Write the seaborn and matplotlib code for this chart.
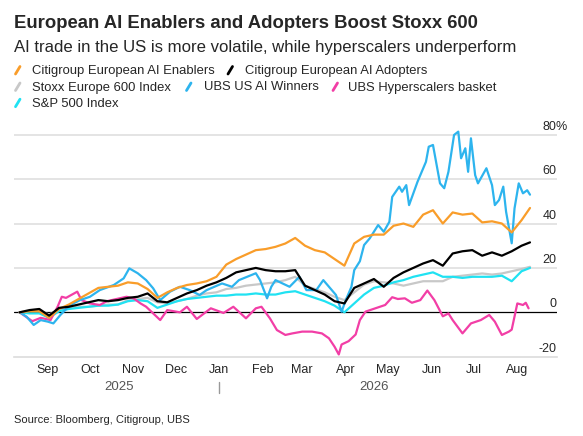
import pandas as pd
import matplotlib.pyplot as plt
import matplotlib.transforms as mtransforms
from matplotlib.lines import Line2D
import seaborn as sns

# % change since Aug 12 2025
week_dates = list(pd.date_range("2025-08-12", "2026-08-04", freq="7D")) + [pd.Timestamp("2026-08-10")]

ai_enablers = [0, 0.5, 0.5, -2.5, 1.5, 3.5, 6, 8.5, 11, 11.5, 12, 13.5, 13, 10.5, 6.5, 9,
               11, 12.3, 13, 14, 16, 21.5, 24, 26, 28, 28.5, 29.5, 31, 33.5, 30, 28, 27,
               24, 21, 31, 34, 35, 35, 39, 40, 38.5, 44, 46, 40, 45, 44, 44.5, 40.5, 41,
               40, 36, 41.5, 47]
ai_adopters = [0, 1, 1.5, -1.5, 2, 2.5, 3.5, 4.5, 5.5, 5, 5.5, 6.5, 7, 8.5, 5, 4.5,
               6.5, 8.5, 10, 12, 13.5, 15.5, 18, 19, 20, 19, 18.5, 18.5, 19, 12, 10, 8,
               5, 4, 11, 13, 15, 11.5, 15.5, 18, 20, 22, 23.5, 21, 26.5, 27.5, 28, 25.5,
               27, 25.5, 27.5, 30, 31.5]
stoxx600 = [0, 0.5, 0.5, -1, 1, 2, 2.5, 2.5, 3, 3.5, 3.5, 5.5, 6, 6.5, 4.5, 4,
            5, 6, 7.5, 8.5, 9, 10.5, 11, 12, 12.5, 13, 13.5, 14.5, 16, 12, 10.5, 9,
            7, 5.5, 9, 12.5, 14, 13.5, 13, 12, 13, 14, 14, 14, 16, 16.5, 17, 17.5,
            17, 17.5, 18.5, 19.5, 20.5]
sp500 = [0, -0.5, -0.5, -2.5, 0.5, 1.5, 2, 2.5, 3, 3, 3.5, 5, 5.5, 5, 2, 3.5,
         5, 6, 6.5, 7, 7.5, 7.5, 8, 8, 8.5, 8, 8, 9, 9.5, 8, 6.5, 5,
         3, 0, 4, 8, 11, 12, 13.5, 14.5, 16, 17, 18, 16, 16, 15.5, 16, 16,
         16, 16.5, 14, 18.5, 20]

ai_winners_dates = [
    "2025-08-12", "2025-08-17", "2025-08-22", "2025-08-27", "2025-09-01", "2025-09-05",
    "2025-09-10", "2025-09-17", "2025-09-24", "2025-10-01", "2025-10-08", "2025-10-18",
    "2025-10-25", "2025-10-29", "2025-11-04", "2025-11-10", "2025-11-15", "2025-11-20",
    "2025-11-27", "2025-12-04", "2025-12-11", "2025-12-18", "2025-12-23", "2026-01-03",
    "2026-01-10", "2026-01-15", "2026-01-27", "2026-01-30", "2026-02-04", "2026-02-07",
    "2026-02-10", "2026-02-20", "2026-02-27", "2026-03-04", "2026-03-11", "2026-03-16",
    "2026-03-25", "2026-03-29", "2026-04-01", "2026-04-05", "2026-04-07", "2026-04-11",
    "2026-04-14", "2026-04-18", "2026-04-24", "2026-04-28", "2026-05-02", "2026-05-04",
    "2026-05-09", "2026-05-11", "2026-05-14", "2026-05-16", "2026-05-22", "2026-05-28",
    "2026-05-30", "2026-06-02", "2026-06-07", "2026-06-10", "2026-06-13", "2026-06-17",
    "2026-06-20", "2026-06-22", "2026-06-25", "2026-06-27", "2026-06-29", "2026-07-02",
    "2026-07-04", "2026-07-10", "2026-07-14", "2026-07-16", "2026-07-19", "2026-07-22",
    "2026-07-24", "2026-07-28", "2026-07-30", "2026-08-02", "2026-08-05", "2026-08-08",
    "2026-08-10"]
ai_winners = [0, -2, -5.7, -3.5, -4.2, -5, -1.2, 3.3, 5.5, 7, 10, 12.3,
              15.3, 19.8, 17.6, 14.5, 10.8, 5.5, 9.3, 11.5, 10, 7.8, 10, 13,
              11.5, 14.5, 17.6, 14.5, 6.3, 11.5, 14.5, 11.5, 16, 10, 10, 14.5,
              7.8, 0.3, 5.5, 11.5, 19, 23, 30.3, 33.3, 39.3, 36.3, 40.8, 52,
              56.6, 54.3, 57.3, 48.3, 58.8, 67.8, 74.6, 75.4, 58.1, 55.9, 63.3, 79.9,
              81.4, 69.4, 73.9, 63.3, 78.4, 61.8, 58.1, 64.9, 57.3, 48.3, 50.6, 56.6,
              45.3, 31.1, 46.8, 58.1, 53.6, 55, 53]

hyperscalers_dates = [
    "2025-08-12", "2025-08-21", "2025-08-27", "2025-09-03", "2025-09-08", "2025-09-11",
    "2025-09-14", "2025-09-22", "2025-09-25", "2025-10-01", "2025-10-08", "2025-10-13",
    "2025-10-27", "2025-11-01", "2025-11-06", "2025-11-10", "2025-11-15", "2025-11-20",
    "2025-11-25", "2025-12-04", "2025-12-09", "2025-12-16", "2025-12-26", "2026-01-04",
    "2026-01-11", "2026-01-20", "2026-01-27", "2026-01-31", "2026-02-06", "2026-02-11",
    "2026-02-17", "2026-02-22", "2026-03-01", "2026-03-08", "2026-03-15", "2026-03-20",
    "2026-03-24", "2026-03-27", "2026-03-29", "2026-04-03", "2026-04-08", "2026-04-11",
    "2026-04-15", "2026-04-22", "2026-04-29", "2026-05-04", "2026-05-08", "2026-05-13",
    "2026-05-18", "2026-05-24", "2026-05-29", "2026-06-03", "2026-06-09", "2026-06-13",
    "2026-06-16", "2026-06-23", "2026-06-29", "2026-07-06", "2026-07-12", "2026-07-16",
    "2026-07-21", "2026-07-26", "2026-07-28", "2026-08-01", "2026-08-05", "2026-08-07",
    "2026-08-09"]
hyperscalers = [0, -4, -2.5, -3.5, 2.5, 7, 6.5, 9.3, 5.5, 4, 3.3, 5,
                7, 6.3, 4, 2.5, -0.5, -3.5, 1, 0, 2.5, -3, 1.8, -0.3,
                2.5, -2.7, 1.8, 2.5, -2.7, -8, -10.2, -9.5, -8.7, -8.7, -9.5, -11.7,
                -15.5, -19, -14.5, -13, -10, -3.5, 0.3, 1.8, 3.3, 6.8, 6, 6.3,
                4.3, 5.5, 9.8, 5.5, -1.8, -0.5, -3.5, -9.5, -5, -3.5, -1.2, -4.2,
                -10.2, -8.7, -7.8, 4, 3.3, 4.3, 1.8]

month_ticks = pd.date_range("2025-09-01", "2026-08-01", freq="MS")
month_labels = ["Sep", "Oct", "Nov", "Dec", "Jan", "Feb", "Mar", "Apr", "May", "Jun", "Jul", "Aug"]
y_ticks = [-20, 0, 20, 40, 60, 80]

names = ["Citigroup European AI Enablers", "Citigroup European AI Adopters",
         "Stoxx Europe 600 Index", "UBS US AI Winners", "UBS Hyperscalers basket",
         "S&P 500 Index"]
colors = {
    "Citigroup European AI Enablers": "#f99d2a",
    "Citigroup European AI Adopters": "#000000",
    "Stoxx Europe 600 Index": "#c8c8c8",
    "UBS US AI Winners": "#2db4ee",
    "UBS Hyperscalers basket": "#f23ea6",
    "S&P 500 Index": "#20e2f2",
}
draw_order = ["Stoxx Europe 600 Index", "S&P 500 Index", "UBS Hyperscalers basket",
              "UBS US AI Winners", "Citigroup European AI Enablers",
              "Citigroup European AI Adopters"]

frames = [
    pd.DataFrame({"date": week_dates, "pct": ai_enablers, "series": names[0]}),
    pd.DataFrame({"date": week_dates, "pct": ai_adopters, "series": names[1]}),
    pd.DataFrame({"date": week_dates, "pct": stoxx600, "series": names[2]}),
    pd.DataFrame({"date": pd.to_datetime(ai_winners_dates), "pct": ai_winners, "series": names[3]}),
    pd.DataFrame({"date": pd.to_datetime(hyperscalers_dates), "pct": hyperscalers, "series": names[4]}),
    pd.DataFrame({"date": week_dates, "pct": sp500, "series": names[5]}),
]
df = pd.concat(frames, ignore_index=True)

sns.set_style("white")
plt.rcParams['font.family'] = ['Liberation Sans', 'DejaVu Sans']

W, H = 583, 436
fig = plt.figure(figsize=(W / 100, H / 100), dpi=100)
ax = fig.add_axes([14 / W, 1 - 356.7 / H, (556.7 - 14) / W, (356.7 - 130.3) / H])

for v in y_ticks[2:]:
    ax.axhline(v, color="#dcdcdc", lw=1.1, zorder=0)
ax.axhline(0, color="black", lw=0.9, zorder=1)

sns.lineplot(data=df, x="date", y="pct", hue="series", hue_order=draw_order,
             palette=colors, estimator=None, linewidth=1.6, legend=False, ax=ax)

ax.set_xlim(pd.Timestamp("2025-08-08"), pd.Timestamp("2026-08-29"))
ax.set_ylim(-20, 82)
ax.set_xlabel("")
ax.set_ylabel("")
ax.set_yticks([])
ax.set_xticks(month_ticks, month_labels)
ax.tick_params(axis="x", length=3.6, width=0.8, color="#444444", labelsize=9, pad=1.5)
for side in ["top", "left", "right"]:
    ax.spines[side].set_visible(False)
ax.spines["bottom"].set_color("#dcdcdc")
ax.spines["bottom"].set_linewidth(1.2)

# y labels sit above the gridlines on the right
ytrans = mtransforms.offset_copy(ax.get_yaxis_transform(), fig=fig, x=0, y=5, units="dots")
for v in y_ticks:
    ax.text(1, v, str(v), transform=ytrans, ha="right", va="baseline", fontsize=9)
pct_trans = mtransforms.offset_copy(ax.get_yaxis_transform(), fig=fig, x=-1.5, y=5, units="dots")
ax.text(1, 80, "%", transform=pct_trans, ha="left", va="baseline", fontsize=9)

# year labels
xtrans = ax.get_xaxis_transform()
ax.text(pd.Timestamp("2025-10-22"), -0.147, "2025", transform=xtrans, ha="center",
        va="baseline", fontsize=9.5, color="#555555")
ax.text(pd.Timestamp("2026-04-21"), -0.147, "2026", transform=xtrans, ha="center",
        va="baseline", fontsize=9.5, color="#555555")
jan1 = pd.Timestamp("2026-01-01")
ax.plot([jan1, jan1], [-0.110, -0.159], transform=xtrans, clip_on=False,
        color="#999999", lw=1)

# titles
fig.text(14 / W, 1 - 27.7 / H, "European AI Enablers and Adopters Boost Stoxx 600",
         fontsize=13.3, fontweight="bold", va="baseline")
fig.text(14 / W, 1 - 52.3 / H, "AI trade in the US is more volatile, while hyperscalers underperform",
         fontsize=12.1, va="baseline")

# legend
def legend_entry(x_mark, x_text, y_base, name):
    fig.add_artist(Line2D([x_mark / W, (x_mark + 4.5) / W],
                          [1 - y_base / H, 1 - (y_base - 7.5) / H],
                          color=colors[name], lw=2, transform=fig.transFigure))
    fig.text(x_text / W, 1 - y_base / H, name, fontsize=9.4, va="baseline")

legend_entry(15.5, 32, 74, names[0])
legend_entry(228, 245, 74, names[1])
legend_entry(15.5, 32, 90.5, names[2])
legend_entry(186.5, 203.5, 90.5, names[3])
legend_entry(333, 347.5, 90.5, names[4])
legend_entry(15.5, 32, 106.7, names[5])

fig.text(14 / W, 1 - 423.3 / H, "Source: Bloomberg, Citigroup, UBS", fontsize=8, va="baseline")

fig.savefig("out.png", dpi=100)
